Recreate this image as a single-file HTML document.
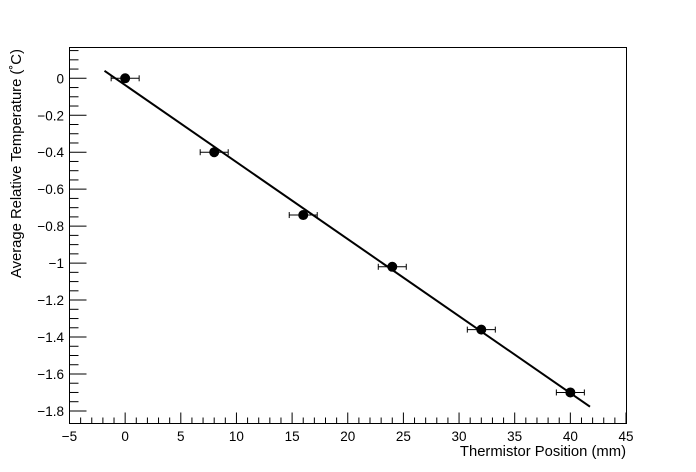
<!DOCTYPE html>
<html><head><style>body{margin:0;background:#fff}svg{display:block}text{font-family:"Liberation Sans",sans-serif;font-size:13.5px;fill:#000}</style></head><body>
<svg width="696" height="472" xmlns="http://www.w3.org/2000/svg">
<rect x="69.5" y="47.5" width="557" height="376" fill="none" stroke="#000" stroke-width="1"/>
<g id="t" stroke="#000" stroke-width="1"></g>
<g id="l"></g>
<polyline points="104.5,70.8 590,406.7" stroke="#000" stroke-width="2" fill="none"/>
<g id="d" stroke="#000" stroke-width="1"></g>
<text x="626" y="456" text-anchor="end" style="font-size:14.8px">Thermistor Position (mm)</text>
<text transform="translate(21,278) rotate(-90)" style="font-size:14.8px">Average Relative Temperature (˚C)</text>
<script>
var ns="http://www.w3.org/2000/svg",t=document.getElementById('t'),l=document.getElementById('l'),d=document.getElementById('d');
function X(v){return 69.5+(v+5)*11.13}function Y(v){return 78.3-v*184.8}
function ln(g,a,b,c,e){var o=document.createElementNS(ns,'line');o.setAttribute('x1',a);o.setAttribute('y1',b);o.setAttribute('x2',c);o.setAttribute('y2',e);g.appendChild(o)}
function tx(s,x,y,a){var o=document.createElementNS(ns,'text');o.setAttribute('x',x);o.setAttribute('y',y);o.setAttribute('text-anchor',a);o.textContent=s;l.appendChild(o)}
for(var v=-5;v<=45;v++){var x=X(v)+0;var M=v%5==0;ln(t,x,423.5,x,423.5-(M?11:6));if(M)tx(v<0?'\u2212'+(-v):v,x,441,'middle')}
for(var i=3;i>=-36;i--){var v=i*0.05,y=Y(v);if(y<48||y>423)continue;var M=i%4==0;ln(t,69.5,y,69.5+(M?17:9),y);if(M){var s=(Math.abs(v)<1e-9)?'0':(v<0?'\u2212':'')+(+Math.abs(v).toFixed(1));tx(s,64,y+5,'end')}}
[[0,0],[8,-0.4],[16,-0.74],[24,-1.02],[32,-1.36],[40,-1.70]].forEach(function(p){var x=X(p[0]),y=Y(p[1]);ln(d,x-14,y,x+14,y);ln(d,x-14,y-3,x-14,y+3);ln(d,x+14,y-3,x+14,y+3);var c=document.createElementNS(ns,'circle');c.setAttribute('cx',x);c.setAttribute('cy',y);c.setAttribute('r',4.5);c.setAttribute('fill','#000');d.appendChild(c)});
</script>
</svg>
</body></html>
